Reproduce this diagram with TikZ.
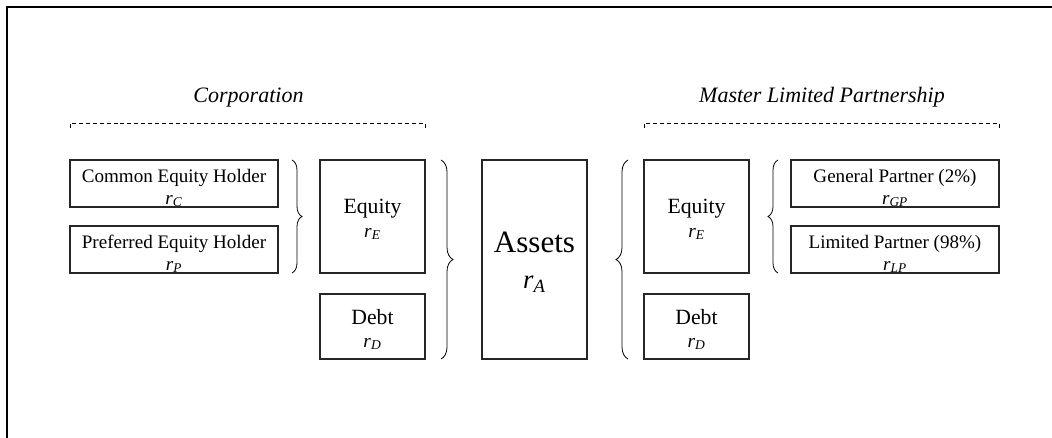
\documentclass[tikz,border=0pt]{standalone}
\usepackage{fontspec}
\setmainfont{Liberation Serif}
\usetikzlibrary{calc,decorations.pathreplacing}
\newcommand\rsubv[1]{\textit{r}\textsubscript{\textit{#1}}}
\begin{document}
\begin{tikzpicture}[x=0.75pt,y=-0.75pt,
  box/.style={draw=black!85,line width=0.9pt,rectangle,inner sep=0pt,outer sep=0pt},
  wide/.style={box,minimum width=156pt,minimum height=35.25pt},
  eqbox/.style={box,minimum width=78.75pt,minimum height=84.75pt},
  debtbox/.style={box,minimum width=78.75pt,minimum height=48.75pt},
  assetbox/.style={box,minimum width=78.75pt,minimum height=149.25pt},
  txt/.style={anchor=base,inner sep=0pt,outer sep=0pt},
  fsmall/.style={font=\fontsize{14.3pt}{17pt}\selectfont},
  fmid/.style={font=\fontsize{16.3pt}{19pt}\selectfont},
  fsub/.style={font=\fontsize{14.5pt}{17pt}\selectfont},
  fbig/.style={font=\fontsize{23.3pt}{28pt}\selectfont},
  fbigsub/.style={font=\fontsize{20pt}{24pt}\selectfont},
  ftitle/.style={font=\fontsize{16.5pt}{20pt}\selectfont\itshape},
  frameline/.style={line width=1.5pt},
  group/.style={line width=0.7pt,dash pattern=on 3pt off 2.2pt},
  brc/.style={line width=0.6pt,decorate,decoration={brace,amplitude=#1}},
]
\useasboundingbox (0,0) rectangle (1052,437);
\draw[frameline] (7,438) -- (7,7) -- (1053,7);

% boxes
\node[wide] (common) at (174,183.5) {};
\node[wide] (pref) at (174,249.5) {};
\node[eqbox] (eqL) at (372.5,216.5) {};
\node[debtbox] (debtL) at (372.5,326.5) {};
\node[assetbox] (assets) at (534.5,259.5) {};
\node[eqbox] (eqR) at (696.5,216.5) {};
\node[debtbox] (debtR) at (696.5,326.5) {};
\node[wide] (gp) at (895,183.5) {};
\node[wide] (lp) at (895,249.5) {};

% texts
\node[txt,fsmall] (commonA) at ($(common.north)+(0,22)$) {Common Equity Holder};
\node[txt,fsmall] (commonB) at ($(common.north)+(0,44)$) {\rsubv{C}};
\node[txt,fsmall] (prefA) at ($(pref.north)+(0,22)$) {Preferred Equity Holder};
\node[txt,fsmall] (prefB) at ($(pref.north)+(0,44)$) {\rsubv{P}};
\node[txt,fmid] (eqLA) at ($(eqL.north)+(0,53)$) {Equity};
\node[txt,fsub] (eqLB) at ($(eqL.north)+(0,77)$) {\rsubv{E}};
\node[txt,fmid] (debtLA) at ($(debtL.north)+(0,30)$) {Debt};
\node[txt,fsub] (debtLB) at ($(debtL.north)+(0,53)$) {\rsubv{D}};
\node[txt,fbig] (assetsA) at ($(assets.north)+(0,92)$) {Assets};
\node[txt,fbigsub] (assetsB) at ($(assets.north)+(0,128)$) {\rsubv{A}};
\node[txt,fmid] (eqRA) at ($(eqR.north)+(0,53)$) {Equity};
\node[txt,fsub] (eqRB) at ($(eqR.north)+(0,77)$) {\rsubv{E}};
\node[txt,fmid] (debtRA) at ($(debtR.north)+(0,30)$) {Debt};
\node[txt,fsub] (debtRB) at ($(debtR.north)+(0,53)$) {\rsubv{D}};
\node[txt,fsmall] (gpA) at ($(gp.north)+(0,22)$) {General Partner (2\%)};
\node[txt,fsmall] (gpB) at ($(gp.north)+(0,44)$) {\rsubv{GP}};
\node[txt,fsmall] (lpA) at ($(lp.north)+(0,22)$) {Limited Partner (98\%)};
\node[txt,fsmall] (lpB) at ($(lp.north)+(0,44)$) {\rsubv{LP}};

% titles
\node[txt,ftitle] (corp) at (248.5,102) {Corporation};
\node[txt,ftitle] (mlp) at (822,102) {Master Limited Partnership};

% dashed group brackets
\draw[group] (common.north west |- 0,128) -- (common.north west |- 0,123)
  -- (eqL.north east |- 0,123) -- (eqL.north east |- 0,128);
\draw[group] (eqR.north west |- 0,128) -- (eqR.north west |- 0,123)
  -- (gp.north east |- 0,123) -- (gp.north east |- 0,128);

% braces
\draw[brc=7.5pt] ($(common.north east)+(14,0)$) -- ($(pref.south east)+(14,0)$);
\draw[brc=9pt] ($(eqL.north east)+(16,0)$) -- ($(debtL.south east)+(16,0)$);
\draw[brc=9pt] ($(debtR.south west)+(-16,0)$) -- ($(eqR.north west)+(-16,0)$);
\draw[brc=7.5pt] ($(lp.south west)+(-13,0)$) -- ($(gp.north west)+(-13,0)$);
\end{tikzpicture}
\end{document}
